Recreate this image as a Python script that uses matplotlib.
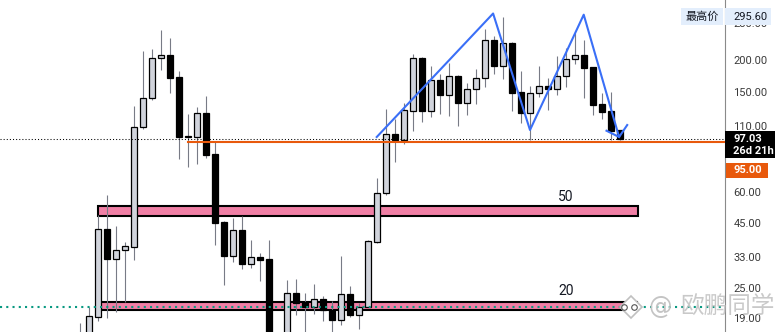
import matplotlib
matplotlib.use("Agg")
import matplotlib.pyplot as plt
from matplotlib.patches import Rectangle
from matplotlib.ticker import NullLocator

# Candle data (daily bars, log price scale)
opens = [14.85, 14.85, 19.22, 42.67, 32.46, 35.23, 36.41, 108.2, 141.0, 203.1,
         209.3, 171.3, 99.70, 99.34, 123.0, 84.83, 45.61, 33.54, 42.40, 31.18,
         33.14, 32.55, 13.93, 14.85, 23.80, 21.98, 20.95, 22.53, 20.44, 18.71,
         23.65, 19.58, 21.06, 38.11, 59.27, 101.5, 96.65, 125.9, 203.1, 125.9,
         166.2, 145.7, 172.4, 135.5, 153.1, 169.2, 239.4, 189.9, 233.6, 149.4,
         123.7, 147.6, 157.3, 153.9, 172.4, 201.3, 208.8, 187.6, 133.9, 125.6, 105.6]
closes = [16.27, 19.35, 42.67, 32.46, 35.23, 36.54, 108.2, 141.0, 203.1, 208.8,
          170.2, 99.34, 99.43, 123.0, 84.29, 45.32, 33.54, 42.40, 31.18, 33.14,
          32.34, 12.95, 15.54, 23.80, 21.72, 21.06, 22.53, 20.44, 18.71, 23.58,
          19.58, 21.06, 38.25, 59.27, 101.5, 96.65, 126.4, 203.1, 125.9, 166.2,
          145.7, 172.4, 135.5, 153.1, 169.2, 239.4, 189.9, 233.6, 148.4, 123.7,
          147.6, 157.3, 153.9, 172.4, 201.3, 208.8, 186.4, 133.0, 124.8, 104.9, 97.03]
highs = [18.15, 20.95, 48.62, 58.36, 43.98, 38.01, 131.4, 217.1, 221.1, 263.0,
         244.5, 180.9, 122.2, 130.3, 144.0, 94.91, 46.16, 47.18, 48.18, 38.71,
         34.38, 38.71, 16.42, 26.87, 27.12, 23.86, 25.91, 23.22, 22.12, 33.45,
         25.44, 21.72, 38.71, 68.15, 127.9, 117.1, 135.1, 211.3, 205.0, 189.3,
         176.0, 195.1, 174.4, 162.1, 184.2, 265.4, 249.6, 295.6, 235.7, 180.9,
         157.8, 189.3, 169.2, 207.4, 222.5, 256.6, 240.0, 187.6, 148.0, 149.4, 105.6]
lows = [14.19, 14.19, 18.54, 19.05, 20.12, 22.04, 32.34, 106.9, 139.2, 183.1,
        148.4, 81.27, 75.55, 77.65, 82.01, 37.08, 25.74, 31.75, 29.79, 30.06,
        26.70, 11.82, 12.95, 14.19, 19.58, 16.27, 19.76, 18.54, 16.27, 17.82,
        19.22, 17.23, 21.00, 37.76, 58.52, 78.86, 92.93, 104.9, 113.9, 119.2,
        122.5, 120.3, 109.8, 121.4, 134.2, 156.8, 176.5, 168.6, 125.9, 112.9,
        96.39, 142.3, 126.7, 145.3, 156.3, 192.3, 141.8, 121.1, 117.1, 96.39, 96.39]

# Price levels / zones
last_price = 97.03
support = 95.00
high_price = 295.60
low_dotted = 21.06
zone50 = (48.27, 52.64)
zone20 = (20.49, 21.98)
# Zigzag pattern (bar index, price)
zig_x = [32.97, 45.9, 50.0, 55.97, 59.9, 60.8]
zig_y = [99.06, 305.7, 105.6, 302.4, 99.06, 110.5]
tail_x = [58.5, 59.9]
tail_y = [104.9, 99.06]
ticks = [19, 25, 33, 45, 60, 110, 150, 200, 280]

W, H = 783, 332
fig = plt.figure(figsize=(W/100, H/100), dpi=100)
ax = fig.add_axes([0, 0, 725/W, 1])
ax.set_yscale("log")
ax.set_ylim(16.72, 345.77)
ax.set_xlim(-80/9, 645/9)

# Pink zones
ax.add_patch(Rectangle((2.03, zone50[0]), 59.94, zone50[1]-zone50[0], fc="#f07fa5", ec="black", lw=1.5, zorder=1))
ax.add_patch(Rectangle((2.1, zone20[0]), 59.8, zone20[1]-zone20[0], fc="#f07fa5", ec="black", lw=1.5, zorder=1))

# Candles
for i in range(len(opens)):
    o, cl = opens[i], closes[i]
    ax.vlines(i, lows[i], highs[i], color="#787b86", lw=0.8, zorder=2)
    up = cl > o
    ax.add_patch(Rectangle((i-0.3, min(o, cl)), 0.6, abs(cl-o), fc="#d1d4dc" if up else "black",
                           ec="black", lw=0.9, zorder=3))

ax.axhline(last_price, color="black", lw=0.75, ls=(0, (1, 2)), zorder=4)
ax.plot([12, 72], [support, support], color="#e8590c", lw=1.5, zorder=4)
ax.axhline(low_dotted, color="#089981", lw=1.5, ls=(0, (1, 2)), zorder=4)
ax.plot(zig_x, zig_y, color="#3a6ff7", lw=1.5, zorder=5)
ax.plot(tail_x, tail_y, color="#3a6ff7", lw=1.5, zorder=5)
ax.text(54, 57.3, "50", ha="center", va="center", fontsize=10, family="Roboto", color="#131722")
ax.text(54, 24.3, "20", ha="center", va="center", fontsize=10, family="Roboto", color="#131722")

# Zone handle
ax.plot([61.2], [low_dotted], marker="D", ms=11, mfc="white", mec="#c0c0c0", mew=1.2, zorder=6, clip_on=False)
ax.plot([60.4, 61.6], [low_dotted, low_dotted], "o", ms=4, mfc="white", mec="#555555", mew=0.8, zorder=7)

# Right price axis
for s in ["top", "left", "bottom"]:
    ax.spines[s].set_visible(False)
ax.spines["right"].set_color("#8a8a8a")
ax.set_xticks([])
ax.yaxis.tick_right()
ax.set_yticks(ticks)
ax.set_yticklabels(["%.2f" % t for t in ticks], family="Roboto", fontsize=8, color="#3a3a3a")
ax.yaxis.set_minor_locator(NullLocator())
ax.tick_params(axis="y", length=0, pad=6)


def box(x0, y0, x1, y1, color):
    fig.patches.append(Rectangle((x0/W, 1-y1/H), (x1-x0)/W, (y1-y0)/H, transform=fig.transFigure,
                                 fc=color, ec="none", zorder=10))


box(681, 8, 723, 25, "#e3eefc")
box(725, 8, 771, 25, "#e3eefc")
fig.text(702/W, 1-16.5/H, "最高价", ha="center", va="center", fontsize=8, family="Noto Sans CJK SC", color="#131722", zorder=11)
fig.text(733/W, 1-16.5/H, "%.2f" % high_price, ha="left", va="center", fontsize=8, family="Roboto", color="#131722", zorder=11)
box(725, 131, 775, 158, "black")
fig.text(733/W, 1-139/H, "%.2f" % last_price, ha="left", va="center", fontsize=8, family="Roboto", weight="bold", color="white", zorder=11)
fig.text(733/W, 1-151/H, "26d 21h", ha="left", va="center", fontsize=8, family="Roboto", weight="bold", color="white", zorder=11)
box(726, 163, 768, 178, "#e8590c")
fig.text(733/W, 1-170.5/H, "%.2f" % support, ha="left", va="center", fontsize=8, family="Roboto", weight="bold", color="white", zorder=11)

# Watermark
fig.text(660/W, 1-307/H, "@", ha="center", va="center", fontsize=17, color="#c4c4c4", zorder=12)
fig.text(728/W, 1-306/H, "欧鹏同学", ha="center", va="center", fontsize=17, family="Noto Sans CJK SC",
         color="#c4c4c4", alpha=0.9, zorder=12)

fig.savefig("out.png", dpi=100)
